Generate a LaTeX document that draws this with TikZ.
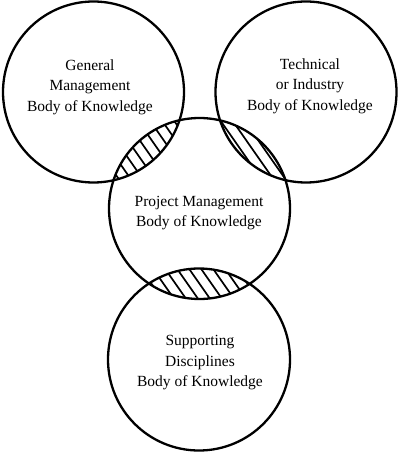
\documentclass[tikz,border=0pt]{standalone}
\usepackage{fontspec}
\setmainfont{Liberation Serif}
\tikzset{
  ring/.style={circle, draw, line width=2.3pt, inner sep=0pt, minimum size=181pt},
  label/.style={align=center, font=\fontsize{15.5}{20.5}\selectfont},
  hatch/.style={line width=1.7pt},
}
\begin{document}
\begin{tikzpicture}[x=1pt,y=-1pt]
\useasboundingbox (0,0) rectangle (400,454);
% hatching in the three lenses
\begin{scope}
  \clip (93.5,92) circle (90.5pt);
  \clip (199.5,208.5) circle (90.5pt);
  \foreach \t in {-168,-156,...,168}
    \draw[hatch] ({146.5+\t-86},{150-123}) -- ({146.5+\t+86},{150+123});
\end{scope}
\begin{scope}
  \clip (306,92) circle (90.5pt);
  \clip (199.5,208.5) circle (90.5pt);
  \foreach \t in {-168,-156,...,168}
    \draw[hatch] ({253+\t-86},{150-123}) -- ({253+\t+86},{150+123});
\end{scope}
\begin{scope}
  \clip (199.5,208.5) circle (90.5pt);
  \clip (199,359.5) circle (91pt);
  \foreach \t in {-168,-156,...,168}
    \draw[hatch] ({199+\t-86},{283-123}) -- ({199+\t+86},{283+123});
\end{scope}
% circles
\node[ring] (gm) at (93.5,92) {};
\node[ring] (ti) at (306,92) {};
\node[ring] (pm) at (199.5,208.5) {};
\node[ring, minimum size=182pt] (sd) at (199,359.5) {};
% labels
\node[label] (gmt) at (90,87) {General\\Management\\Body of Knowledge};
\node[label] (tit) at (310,86) {Technical\\or Industry\\Body of Knowledge};
\node[label] (pmt) at (199,213) {Project Management\\Body of Knowledge};
\node[label] (sdt) at (200,363) {Supporting\\Disciplines\\Body of Knowledge};
\end{tikzpicture}
\end{document}
